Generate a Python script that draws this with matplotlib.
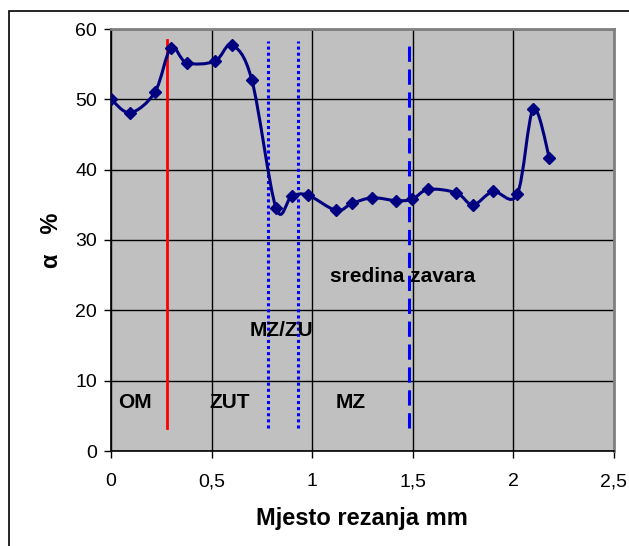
import matplotlib
matplotlib.use('Agg')
import matplotlib.pyplot as plt
import numpy as np
from matplotlib.path import Path
from matplotlib.patches import PathPatch, Rectangle

# measured points (position mm, alpha %)
x_mm = [0.0, 0.096, 0.218, 0.298, 0.376, 0.516, 0.60, 0.70, 0.82, 0.898, 0.978,
        1.12, 1.198, 1.30, 1.418, 1.498, 1.578, 1.718, 1.80, 1.90, 2.02, 2.10, 2.18]
alpha = [50.0, 48.1, 51.0, 57.3, 55.2, 55.4, 57.7, 52.8, 34.6, 36.2, 36.4,
         34.2, 35.2, 36.0, 35.6, 35.8, 37.2, 36.7, 35.0, 36.9, 36.5, 48.6, 41.7]

# zone boundaries
om_zut = 0.28
mz_zu = [0.78, 0.93]
weld_mid = 1.48

zone_labels = ['OM', 'ZUT', 'MZ', 'MZ/ZU', 'sredina zavara']
zone_x = [0.12, 0.59, 1.19, 0.85, 1.45]
zone_y = [6.9, 6.9, 6.9, 17.1, 24.8]

xticks = [0, 0.5, 1, 1.5, 2, 2.5]
xtick_labels = ['0', '0,5', '1', '1,5', '2', '2,5']
yticks = [0, 10, 20, 30, 40, 50, 60]

plt.rcParams['font.family'] = ['Liberation Sans', 'DejaVu Sans']

fig = plt.figure(figsize=(6.29, 5.46), dpi=100)
# outer chart border
fig.patches.append(Rectangle((9/629, -0.05), 1.0, 1 - 10.5/546 + 0.05,
                             transform=fig.transFigure, fill=False,
                             edgecolor='black', linewidth=1.2))

ax = fig.add_axes([111/629, 1 - 451/546, (613.7 - 111)/629, (451 - 29)/546])
ax.set_facecolor('#C0C0C0')
ax.set_xlim(0, 2.5)
ax.set_ylim(0, 60)

# smooth line like excel (catmull-rom as bezier)
P = np.column_stack([x_mm, alpha])
verts = [P[0]]
codes = [Path.MOVETO]
n = len(P)
for i in range(n - 1):
    p0 = P[i - 1] if i > 0 else P[i]
    p1 = P[i]
    p2 = P[i + 1]
    p3 = P[i + 2] if i + 2 < n else P[i + 1]
    c1 = p1 + (p2 - p0) / 6.0
    c2 = p2 - (p3 - p1) / 6.0
    verts += [c1, c2, p2]
    codes += [Path.CURVE4] * 3
ax.add_patch(PathPatch(Path(verts, codes), facecolor='none', edgecolor='#000080',
                       linewidth=2.2, zorder=4))
ax.plot(x_mm, alpha, linestyle='none', marker='D', markersize=6.5,
        color='#000080', zorder=5)

# zone lines
ax.plot([om_zut, om_zut], [3.3, 58.5], color='red', linewidth=2, zorder=3)
for xv in mz_zu:
    ax.plot([xv, xv], [3.3, 58.3], color='blue', linewidth=2.2,
            linestyle=(0, (1, 1)), zorder=3)
ax.plot([weld_mid, weld_mid], [3.3, 58.3], color='blue', linewidth=2.2,
        linestyle=(0, (5, 2.5)), zorder=3)

for lbl, xx, yy in zip(zone_labels, zone_x, zone_y):
    ax.text(xx, yy, lbl, ha='center', va='center', fontsize=15,
            fontweight='bold', zorder=6)

ax.set_xticks(xticks)
ax.set_xticklabels(xtick_labels)
ax.set_yticks(yticks)
ax.grid(True, color='black', linewidth=1)
ax.set_axisbelow(True)
ax.tick_params(direction='out', length=5, width=1, labelsize=14, pad=5)
ax.tick_params(axis='x', pad=11)
for s in ['top', 'right']:
    ax.spines[s].set_color('#808080')
    ax.spines[s].set_linewidth(2)
for s in ['left', 'bottom']:
    ax.spines[s].set_color('black')
    ax.spines[s].set_linewidth(1.2)

ax.set_xlabel('Mjesto rezanja mm', fontsize=17, fontweight='bold', labelpad=12)
ax.set_ylabel('\u03b1   %', fontsize=17, fontweight='bold', labelpad=9)

fig.savefig('out.png', dpi=100)
